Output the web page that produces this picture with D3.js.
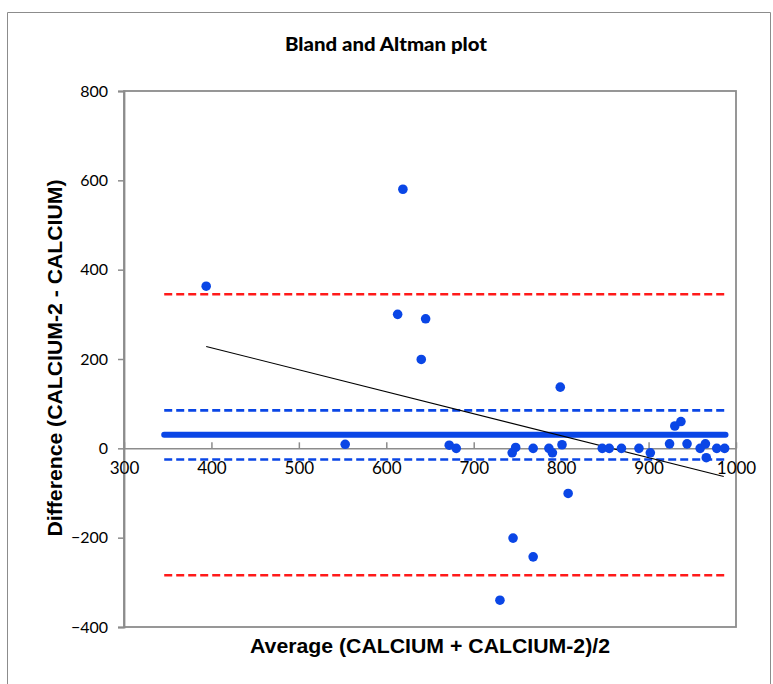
<!DOCTYPE html>
<html>
<head>
<meta charset="utf-8">
<script src="https://cdn.jsdelivr.net/npm/d3@7"></script>
<style>
  html, body { margin: 0; padding: 0; background: #fff; }
  svg { display: block; }
</style>
</head>
<body>
<svg id="chart" width="773" height="684"></svg>
<script>
// Bland–Altman comparison of CALCIUM and CALCIUM-2
const averages = [394, 619, 613, 645, 640, 553, 672, 680, 799, 745, 768, 730, 808,
                  744, 748, 768, 786, 790, 801, 847, 855, 869, 889, 902, 924, 930,
                  937, 944, 959, 965, 966, 978, 987];
const differences = [363, 580, 300, 290, 199, 9, 7, 0, 137, -201, -243, -340, -101,
                     -10, 2, 0, 0, -10, 8, 0, 0, 0, 0, -10, 10, 50,
                     60, 10, 0, 10, -21, 0, 0];

const meanDiff = 30.5;
const loaUpper = 345;
const loaLower = -284;
const ciUpper = 85;
const ciLower = -25;
const lineRange = [346, 988];
const trendStart = [394, 228];
const trendEnd = [986, -63];

const xTicks = [300, 400, 500, 600, 700, 800, 900, 1000];
const yTicks = [-400, -200, 0, 200, 400, 600, 800];

const svg = d3.select("#chart");
const plot = { left: 124, right: 736, top: 91, bottom: 627 };

const x = d3.scaleLinear().domain([300, 1000]).range([plot.left, plot.right]);
const y = d3.scaleLinear().domain([-400, 800]).range([plot.bottom, plot.top]);

const grey = "#8c8c8c";
const blue = "#0a46e6";

// outer chart frame
svg.append("path")
  .attr("d", "M7.5,684 V12.5 H770.5 V684")
  .attr("fill", "none").attr("stroke", grey).attr("stroke-width", 1);

// plot area frame
svg.append("rect")
  .attr("x", plot.left).attr("y", plot.top)
  .attr("width", plot.right - plot.left).attr("height", plot.bottom - plot.top)
  .attr("fill", "none").attr("stroke", grey).attr("stroke-width", 1.8);

// y axis
const yAxis = svg.append("g")
  .attr("transform", `translate(${plot.left},0)`)
  .call(d3.axisLeft(y).tickValues(yTicks).tickSize(6).tickPadding(10).tickFormat(d3.format("d")));
yAxis.select(".domain").attr("stroke", grey).attr("stroke-width", 1.8);
yAxis.selectAll(".tick line").attr("stroke", grey).attr("stroke-width", 1.5);
yAxis.selectAll(".tick text")
  .attr("font-family", "Lato, 'Liberation Sans', sans-serif")
  .attr("font-size", 16).attr("fill", "#000");

// x axis drawn across y = 0, ticks pointing up, labels below
const xAxis = svg.append("g")
  .attr("transform", `translate(0,${y(0)})`)
  .call(d3.axisBottom(x).tickValues(xTicks).tickSizeInner(-6).tickSizeOuter(0).tickPadding(14).tickFormat(d3.format("d")));
xAxis.select(".domain").attr("stroke", grey).attr("stroke-width", 1.5);
xAxis.selectAll(".tick line").attr("stroke", grey).attr("stroke-width", 1.5);
xAxis.selectAll(".tick text")
  .attr("font-family", "Lato, 'Liberation Sans', sans-serif")
  .attr("font-size", 17).attr("fill", "#000");

// reference lines
function hline(v, color, width, dash, cap) {
  svg.append("line")
    .attr("x1", x(lineRange[0])).attr("x2", x(lineRange[1]))
    .attr("y1", y(v)).attr("y2", y(v))
    .attr("stroke", color).attr("stroke-width", width)
    .attr("stroke-dasharray", dash).attr("stroke-linecap", cap);
}
hline(loaUpper, "#ff1a1a", 2.6, "8,4", "butt");
hline(loaLower, "#ff1a1a", 2.6, "8,4", "butt");
hline(ciUpper, blue, 2.6, "8,4", "butt");
hline(ciLower, blue, 2.6, "8,4", "butt");
hline(meanDiff, blue, 6, null, "round");

// trend line of differences against averages
svg.append("line")
  .attr("x1", x(trendStart[0])).attr("y1", y(trendStart[1]))
  .attr("x2", x(trendEnd[0])).attr("y2", y(trendEnd[1]))
  .attr("stroke", "#000").attr("stroke-width", 1.2);

// data points
svg.append("g").selectAll("circle")
  .data(averages.map((a, i) => [a, differences[i]]))
  .join("circle")
  .attr("cx", d => x(d[0])).attr("cy", d => y(d[1]))
  .attr("r", 4.8).attr("fill", blue);

// titles
svg.append("text")
  .attr("x", 386).attr("y", 51)
  .attr("text-anchor", "middle")
  .attr("font-family", "Lato, 'Liberation Sans', sans-serif")
  .attr("font-weight", "900").attr("font-size", 19.5)
  .attr("textLength", 202).attr("lengthAdjust", "spacingAndGlyphs")
  .text("Bland and Altman plot");

svg.append("text")
  .attr("x", 430).attr("y", 653)
  .attr("text-anchor", "middle")
  .attr("font-family", "'Liberation Sans', Arial, sans-serif")
  .attr("font-weight", "bold").attr("font-size", 20)
  .attr("textLength", 360).attr("lengthAdjust", "spacingAndGlyphs")
  .text("Average (CALCIUM + CALCIUM-2)/2");

svg.append("text")
  .attr("transform", "translate(62,358) rotate(-90)")
  .attr("text-anchor", "middle")
  .attr("font-family", "'Liberation Sans', Arial, sans-serif")
  .attr("font-weight", "bold").attr("font-size", 20)
  .attr("textLength", 357).attr("lengthAdjust", "spacingAndGlyphs")
  .text("Difference (CALCIUM-2 - CALCIUM)");
</script>
</body>
</html>
